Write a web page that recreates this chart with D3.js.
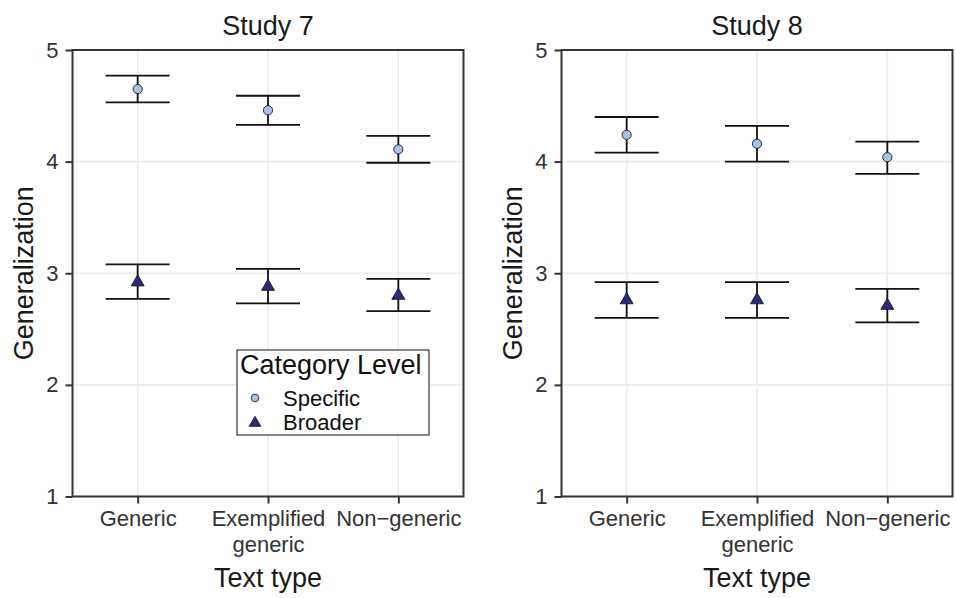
<!DOCTYPE html>
<html lang="en">
<head>
<meta charset="UTF-8">
<title>Generalization by text type</title>
<style>
  body { margin: 0; background: #fff; }
  text { font-family: "Liberation Sans", Arial, Helvetica, sans-serif; }
</style>
</head>
<body>
<div id="chart"></div>
<script src="https://d3js.org/d3.v7.min.js"></script>
<script>
// data
var categories = ["Generic", "Exemplified generic", "Non-generic"];
var tickLabels = [["Generic"], ["Exemplified", "generic"], ["Non\u2212generic"]];
var yTicks = [1, 2, 3, 4, 5];
var studies = ["Study 7", "Study 8"];
var levels = ["Specific", "Broader"];

var s7SpecMean = [4.65, 4.46, 4.11];
var s7SpecLo = [4.53, 4.33, 3.99];
var s7SpecHi = [4.77, 4.59, 4.23];
var s7BroadMean = [2.92, 2.88, 2.80];
var s7BroadLo = [2.77, 2.73, 2.66];
var s7BroadHi = [3.08, 3.04, 2.95];

var s8SpecMean = [4.24, 4.16, 4.04];
var s8SpecLo = [4.08, 4.00, 3.89];
var s8SpecHi = [4.40, 4.32, 4.18];
var s8BroadMean = [2.76, 2.76, 2.71];
var s8BroadLo = [2.60, 2.60, 2.56];
var s8BroadHi = [2.92, 2.92, 2.86];

var W = 956, H = 598;
var specFill = "#a7c2e8", broadFill = "#2c2a7e";

var svg = d3.select("#chart").append("svg")
    .attr("width", W)
    .attr("height", H);

function rows(mean, lo, hi) {
    return categories.map(function (c, i) {
        return { cat: c, m: mean[i], lo: lo[i], hi: hi[i] };
    });
}

var panels = [
    { title: studies[0], left: 72.5, spec: rows(s7SpecMean, s7SpecLo, s7SpecHi), broad: rows(s7BroadMean, s7BroadLo, s7BroadHi), legend: true },
    { title: studies[1], left: 561.5, spec: rows(s8SpecMean, s8SpecLo, s8SpecHi), broad: rows(s8BroadMean, s8BroadLo, s8BroadHi), legend: false }
];

var plotTop = 50, plotBottom = 496.5, pw = 391;

var y = d3.scaleLinear().domain([1, 5]).range([plotBottom, plotTop]);
var tri = d3.symbol().type(d3.symbolTriangle).size(72);
var triSmall = d3.symbol().type(d3.symbolTriangle).size(58);

panels.forEach(function (p) {
    var x = d3.scalePoint().domain(categories).range([p.left, p.left + pw]).padding(0.5);
    var g = svg.append("g");

    // grid
    g.selectAll(".gy").data(yTicks).join("line")
        .attr("x1", p.left).attr("x2", p.left + pw)
        .attr("y1", function (d) { return y(d); })
        .attr("y2", function (d) { return y(d); })
        .attr("stroke", "#ebebeb").attr("stroke-width", 1.6);
    g.selectAll(".gx").data(categories).join("line")
        .attr("x1", function (d) { return x(d); })
        .attr("x2", function (d) { return x(d); })
        .attr("y1", plotTop).attr("y2", plotBottom)
        .attr("stroke", "#ebebeb").attr("stroke-width", 1.6);

    // axes
    var ya = g.append("g").attr("transform", "translate(" + p.left + ",0)")
        .call(d3.axisLeft(y).tickValues(yTicks).tickSize(7).tickPadding(7).tickFormat(d3.format("d")));
    var xa = g.append("g").attr("transform", "translate(0," + plotBottom + ")")
        .call(d3.axisBottom(x).tickSize(7).tickPadding(8));
    [ya, xa].forEach(function (a) {
        a.select(".domain").remove();
        a.selectAll(".tick line").attr("stroke", "#333").attr("stroke-width", 2);
        a.selectAll(".tick text").attr("fill", "#333").style("font-size", "22px");
    });
    xa.selectAll(".tick text").each(function (d, i) {
        var t = d3.select(this).text(null).attr("dy", null).attr("y", 29);
        tickLabels[i].forEach(function (s, k) {
            t.append("tspan").attr("x", 0).attr("dy", k === 0 ? 0 : 26).text(s);
        });
    });

    // border
    g.append("rect")
        .attr("x", p.left).attr("y", plotTop)
        .attr("width", pw).attr("height", plotBottom - plotTop)
        .attr("fill", "none").attr("stroke", "#333").attr("stroke-width", 2);

    // error bars
    [p.spec, p.broad].forEach(function (series) {
        var eb = g.append("g").selectAll("g").data(series).join("g");
        eb.append("line")
            .attr("x1", function (d) { return x(d.cat); })
            .attr("x2", function (d) { return x(d.cat); })
            .attr("y1", function (d) { return y(d.lo); })
            .attr("y2", function (d) { return y(d.hi); });
        eb.append("line")
            .attr("x1", function (d) { return x(d.cat) - 32; })
            .attr("x2", function (d) { return x(d.cat) + 32; })
            .attr("y1", function (d) { return y(d.lo); })
            .attr("y2", function (d) { return y(d.lo); });
        eb.append("line")
            .attr("x1", function (d) { return x(d.cat) - 32; })
            .attr("x2", function (d) { return x(d.cat) + 32; })
            .attr("y1", function (d) { return y(d.hi); })
            .attr("y2", function (d) { return y(d.hi); });
        eb.selectAll("line").attr("stroke", "#111").attr("stroke-width", 1.8);
    });

    // points
    g.selectAll(".spec").data(p.spec).join("circle")
        .attr("cx", function (d) { return x(d.cat); })
        .attr("cy", function (d) { return y(d.m); })
        .attr("r", 4.6)
        .attr("fill", specFill).attr("stroke", "#1a1a1a").attr("stroke-width", 0.9);
    g.selectAll(".broad").data(p.broad).join("path")
        .attr("d", tri)
        .attr("transform", function (d) { return "translate(" + x(d.cat) + "," + y(d.m) + ")"; })
        .attr("fill", broadFill).attr("stroke", "#1a1a1a").attr("stroke-width", 0.9);

    // titles
    var cx = p.left + pw / 2;
    g.append("text").attr("x", cx).attr("y", 35).attr("text-anchor", "middle")
        .attr("fill", "#1a1a1a").style("font-size", "27px").text(p.title);
    g.append("text").attr("x", cx).attr("y", 587).attr("text-anchor", "middle")
        .attr("fill", "#1a1a1a").style("font-size", "27px").text("Text type");
    g.append("text")
        .attr("transform", "translate(" + (p.left - 39.5) + "," + ((plotTop + plotBottom) / 2) + ") rotate(-90)")
        .attr("text-anchor", "middle")
        .attr("fill", "#1a1a1a").style("font-size", "27px").text("Generalization");

    if (p.legend) {
        var lg = g.append("g").attr("transform", "translate(237,350)");
        lg.append("rect").attr("width", 192).attr("height", 85)
            .attr("fill", "#fff").attr("stroke", "#111").attr("stroke-width", 1);
        lg.append("text").attr("x", 3).attr("y", 24).attr("fill", "#111")
            .style("font-size", "27px").text("Category Level");
        var items = lg.selectAll(".item").data(levels).join("g")
            .attr("transform", function (d, i) { return "translate(0," + (48 + i * 24) + ")"; });
        items.append("text").attr("x", 46).attr("y", 8).attr("fill", "#111")
            .style("font-size", "22px").text(function (d) { return d; });
        items.each(function (d, i) {
            var it = d3.select(this);
            if (i === 0) {
                it.append("circle").attr("cx", 18).attr("cy", 0).attr("r", 3.8)
                    .attr("fill", specFill).attr("stroke", "#1a1a1a").attr("stroke-width", 0.9);
            } else {
                it.append("path").attr("d", triSmall).attr("transform", "translate(18,1)")
                    .attr("fill", broadFill).attr("stroke", "#1a1a1a").attr("stroke-width", 0.9);
            }
        });
    }
});
</script>
</body>
</html>
